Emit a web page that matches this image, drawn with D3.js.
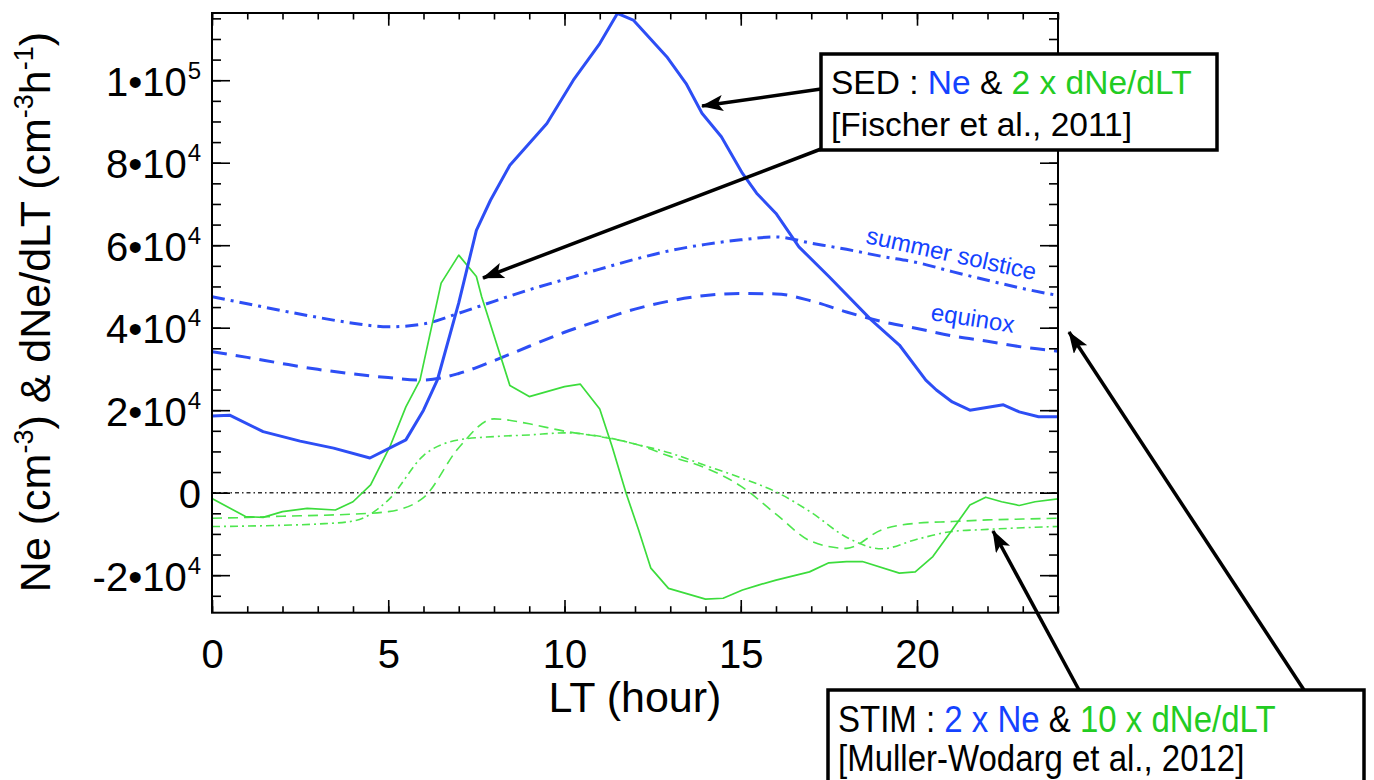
<!DOCTYPE html>
<html>
<head>
<meta charset="utf-8">
<script src="https://cdn.jsdelivr.net/npm/d3@7"></script>
<style>
  html, body { margin: 0; padding: 0; background: #fff; }
  svg { display: block; font-family: "Liberation Sans", Arial, Helvetica, sans-serif; }
</style>
</head>
<body>
<svg id="chart" width="1374" height="780"></svg>
<script>
// ---------------- DATA ----------------
// SED (Fischer et al., 2011): Ne
const sedNeLT = [0, 0.5, 1.45, 2.5, 3.45, 4.48, 5.5, 6.0, 6.4, 7.0, 7.5, 7.9, 8.45, 9.5, 10.25, 11.0, 11.5, 11.95, 12.9, 13.45, 13.9, 14.45, 15.05, 15.45, 16.0, 16.65, 17.5, 18.7, 19.5, 20.25, 20.55, 21.0, 21.5, 22.45, 22.9, 23.45, 24.0];
const sedNe   = [18600, 18800, 14800, 12500, 10800, 8400, 12800, 20000, 27500, 46000, 63600, 70900, 79400, 89500, 100000, 108900, 116200, 114600, 105700, 99200, 92000, 86300, 77400, 72600, 67700, 59600, 52400, 41900, 35800, 27300, 24900, 22000, 20000, 21300, 19600, 18400, 18400];
// SED: 2 x dNe/dLT
const sedDNeLT = [0, 0.95, 1.45, 2.0, 2.7, 3.5, 4.0, 4.5, 5.05, 5.5, 5.9, 6.5, 7.0, 7.5, 7.65, 8.45, 9.0, 10.0, 10.45, 11.0, 11.35, 11.75, 12.1, 12.45, 12.95, 14.0, 14.5, 15.05, 15.5, 16.0, 16.95, 17.5, 18.0, 18.45, 19.5, 19.95, 20.45, 21.0, 21.5, 21.95, 22.4, 22.9, 23.35, 24.0];
const sedDNe   = [-1400, -5800, -6000, -4600, -3800, -4200, -2200, 1900, 11200, 20800, 27300, 50800, 57600, 52400, 47500, 26000, 23300, 25700, 26300, 20300, 11200, -200, -9000, -18300, -23200, -25800, -25600, -23600, -22400, -21200, -19200, -17000, -16700, -16700, -19500, -19200, -15500, -9000, -3000, -1100, -2200, -3100, -2200, -1500];
// STIM (Muller-Wodarg et al., 2012), hourly
const stimLT = [0,1,2,3,4,5,6,7,8,9,10,11,12,13,14,15,16,17,18,19,20,21,22,23,24];
const stimNeSolstice = [47500, 45800, 44100, 42500, 41100, 40200, 40900, 43500, 46400, 49200, 51700, 54200, 56600, 58700, 60200, 61300, 62000, 60500, 59000, 57300, 55800, 53600, 51500, 49500, 47800];
const stimNeEquinox  = [34200, 32800, 31300, 29900, 28800, 27900, 27300, 28900, 32000, 35500, 38900, 41800, 44500, 46500, 47800, 48300, 48200, 46500, 43800, 41500, 39800, 38000, 36700, 35300, 34300];
const stimDNeSolstice = [-8200, -8100, -7900, -7600, -6900, -1800, 9000, 12800, 13600, 14000, 14500, 13700, 11800, 9600, 6600, 3600, 200, -4800, -10800, -13600, -11300, -9400, -8900, -8500, -8200];
const stimDNeEquinox  = [-6200, -6000, -5700, -5500, -5200, -4600, -1200, 10900, 17900, 16700, 14900, 13600, 11800, 8800, 6000, 1600, -5200, -11800, -13500, -9000, -7400, -7000, -6600, -6400, -6200];

// Axis ticks
const xMajorTicks = [0, 5, 10, 15, 20];
const xMinorTicks = d3.range(0, 25, 1);
const yMajorTicks = [-20000, 0, 20000, 40000, 60000, 80000, 100000];
const yMajorLabels = ["-2•10^4", "0", "2•10^4", "4•10^4", "6•10^4", "8•10^4", "1•10^5"];
const yMinorTicks = d3.range(-25000, 115001, 5000);

// ---------------- SETUP ----------------
const BLUE = "#2d4ef5", GREEN = "#3cdc3c", GREEN2 = "#4ee64e";
const TXTBLUE = "#1442ff", TXTGREEN = "#22cc22";
const svg = d3.select("#chart");
svg.append("rect").attr("width", 1374).attr("height", 780).attr("fill", "#fff");

const L = 212, R = 1058, T = 13, B = 612.7;
const x = d3.scaleLinear().domain([0, 24]).range([L, R]);
const y = d3.scaleLinear().domain([-29100, 116300]).range([B, T]);

svg.append("defs").append("clipPath").attr("id", "plotclip")
  .append("rect").attr("x", L).attr("y", T - 1).attr("width", R - L).attr("height", B - T + 1);

const plot = svg.append("g").attr("clip-path", "url(#plotclip)");

// zero line
plot.append("line")
  .attr("x1", x(0)).attr("x2", x(24)).attr("y1", y(0)).attr("y2", y(0))
  .attr("stroke", "#333").attr("stroke-width", 1.6).attr("stroke-dasharray", "4,3,1.5,3");

const lineXY = d3.line().x(d => x(d[0])).y(d => y(d[1]));
const lineSmooth = d3.line().x(d => x(d[0])).y(d => y(d[1])).curve(d3.curveMonotoneX);
const zip = (a, b) => a.map((v, i) => [v, b[i]]);

// STIM curves
plot.append("path").datum(zip(stimLT, stimDNeSolstice)).attr("d", lineSmooth)
  .attr("fill", "none").attr("stroke", GREEN2).attr("stroke-width", 1.6).attr("stroke-dasharray", "8,4,2,4");
plot.append("path").datum(zip(stimLT, stimDNeEquinox)).attr("d", lineSmooth)
  .attr("fill", "none").attr("stroke", GREEN2).attr("stroke-width", 1.6).attr("stroke-dasharray", "10,6");
plot.append("path").datum(zip(stimLT, stimNeSolstice)).attr("d", lineSmooth)
  .attr("fill", "none").attr("stroke", BLUE).attr("stroke-width", 3).attr("stroke-dasharray", "13,6,3,6");
plot.append("path").datum(zip(stimLT, stimNeEquinox)).attr("d", lineSmooth)
  .attr("fill", "none").attr("stroke", BLUE).attr("stroke-width", 3).attr("stroke-dasharray", "15,9");

// SED curves
plot.append("path").datum(zip(sedDNeLT, sedDNe)).attr("d", lineXY)
  .attr("fill", "none").attr("stroke", GREEN).attr("stroke-width", 1.7).attr("stroke-linejoin", "round");
plot.append("path").datum(zip(sedNeLT, sedNe)).attr("d", lineXY)
  .attr("fill", "none").attr("stroke", BLUE).attr("stroke-width", 3).attr("stroke-linejoin", "round");

// curve labels
svg.append("text").text("summer solstice")
  .attr("transform", `translate(865,243) rotate(12.4)`)
  .attr("font-size", 24).attr("fill", TXTBLUE);
svg.append("text").text("equinox")
  .attr("transform", `translate(930,320) rotate(8.7)`)
  .attr("font-size", 24).attr("fill", TXTBLUE);

// ---------------- AXES ----------------
function styleAxis(g) {
  g.select(".domain").remove();
  g.selectAll(".tick line").attr("stroke", "#000").attr("stroke-width", 1.6);
}
// bottom
svg.append("g").attr("transform", `translate(0,${B})`)
  .call(d3.axisBottom(x).tickValues(xMinorTicks).tickSize(-6.5).tickFormat("")).call(styleAxis);
const xb = svg.append("g").attr("transform", `translate(0,${B})`)
  .call(d3.axisBottom(x).tickValues(xMajorTicks).tickSize(-12.7).tickPadding(0).tickFormat(d3.format("d")))
  .call(styleAxis);
xb.selectAll(".tick text").attr("font-size", 40).attr("fill", "#000")
  .attr("font-family", '"Liberation Sans", Arial, Helvetica, sans-serif')
  .attr("dy", null).attr("y", 668 - B);
// top
svg.append("g").attr("transform", `translate(0,${T})`)
  .call(d3.axisTop(x).tickValues(xMinorTicks).tickSize(-6.5).tickFormat("")).call(styleAxis);
svg.append("g").attr("transform", `translate(0,${T})`)
  .call(d3.axisTop(x).tickValues(xMajorTicks).tickSize(-12.7).tickFormat("")).call(styleAxis);
// left
svg.append("g").attr("transform", `translate(${L},0)`)
  .call(d3.axisLeft(y).tickValues(yMinorTicks).tickSize(-9).tickFormat("")).call(styleAxis);
const yl = svg.append("g").attr("transform", `translate(${L},0)`)
  .call(d3.axisLeft(y).tickValues(yMajorTicks).tickSize(-18).tickPadding(11)
    .tickFormat((d, i) => yMajorLabels[i]))
  .call(styleAxis);
yl.selectAll(".tick text").each(function(d, i) {
  const t = d3.select(this);
  const lab = yMajorLabels[i];
  const parts = lab.split("^");
  t.text(null).attr("font-size", 40).attr("fill", "#000")
    .attr("font-family", '"Liberation Sans", Arial, Helvetica, sans-serif')
    .attr("dy", null).attr("y", 15).attr("x", -11).attr("text-anchor", "end");
  t.append("tspan").text(parts[0]);
  if (parts[1]) t.append("tspan").text(parts[1]).attr("font-size", 24).attr("dy", -17).attr("dx", 1);
});
// right
svg.append("g").attr("transform", `translate(${R},0)`)
  .call(d3.axisRight(y).tickValues(yMinorTicks).tickSize(-9).tickFormat("")).call(styleAxis);
svg.append("g").attr("transform", `translate(${R},0)`)
  .call(d3.axisRight(y).tickValues(yMajorTicks).tickSize(-18).tickFormat("")).call(styleAxis);

// frame
svg.append("rect").attr("x", L).attr("y", T).attr("width", R - L).attr("height", B - T)
  .attr("fill", "none").attr("stroke", "#000").attr("stroke-width", 2);

// axis titles
svg.append("text").text("LT (hour)")
  .attr("x", (L + R) / 2).attr("y", 712).attr("text-anchor", "middle").attr("font-size", 43);

const yt = svg.append("text").attr("transform", "translate(50,312) rotate(-90)")
  .attr("text-anchor", "middle").attr("font-size", 43);
const ySegs = [["Ne (cm", 0], ["-3", 1], [") & dNe/dLT (cm", 0], ["-3", 1], ["h", 0], ["-1", 1], [")", 0]];
let prevSup = 0;
ySegs.forEach(([s, sup]) => {
  const ts = yt.append("tspan").text(s);
  if (sup) ts.attr("font-size", 27).attr("dy", -17);
  else if (prevSup) ts.attr("dy", 17);
  prevSup = sup;
});

// ---------------- ANNOTATIONS ----------------
const defs = svg.select("defs");
defs.append("marker").attr("id", "arrow").attr("markerUnits", "userSpaceOnUse")
  .attr("markerWidth", 24).attr("markerHeight", 18).attr("refX", 21).attr("refY", 8)
  .attr("orient", "auto")
  .append("path").attr("d", "M0,0 L22,8 L0,16 L5,8 Z").attr("fill", "#000");

const arrows = [
  [821, 89, 702, 106],
  [821, 149, 483, 278],
  [1304, 690, 1069, 332],
  [1079, 690, 993, 531]
];
arrows.forEach(a => {
  svg.append("line").attr("x1", a[0]).attr("y1", a[1]).attr("x2", a[2]).attr("y2", a[3])
    .attr("stroke", "#000").attr("stroke-width", 3.5).attr("marker-end", "url(#arrow)");
});

// Box 1
svg.append("rect").attr("x", 821).attr("y", 54).attr("width", 396).attr("height", 96)
  .attr("fill", "#fff").attr("stroke", "#000").attr("stroke-width", 3.5);
const b1 = svg.append("text").attr("x", 831).attr("y", 94).attr("font-size", 33.5);
b1.append("tspan").text("SED : ").attr("fill", "#000");
b1.append("tspan").text("Ne").attr("fill", TXTBLUE);
b1.append("tspan").text(" & ").attr("fill", "#000");
b1.append("tspan").text("2 x dNe/dLT").attr("fill", TXTGREEN);
svg.append("text").attr("x", 831).attr("y", 136).attr("font-size", 33.5).text("[Fischer et al., 2011]");

// Box 2
svg.append("rect").attr("x", 828).attr("y", 690).attr("width", 536).attr("height", 120)
  .attr("fill", "#fff").attr("stroke", "#000").attr("stroke-width", 3.5);
const b2 = svg.append("text").attr("transform", "translate(838,732) scale(1,1.1)").attr("font-size", 33);
b2.append("tspan").text("STIM : ").attr("fill", "#000");
b2.append("tspan").text("2 x Ne").attr("fill", TXTBLUE);
b2.append("tspan").text(" & ").attr("fill", "#000");
b2.append("tspan").text("10 x dNe/dLT").attr("fill", TXTGREEN);
svg.append("text").attr("transform", "translate(838,771) scale(1,1.1)").attr("font-size", 33)
  .text("[Muller-Wodarg et al., 2012]");
</script>
</body>
</html>
